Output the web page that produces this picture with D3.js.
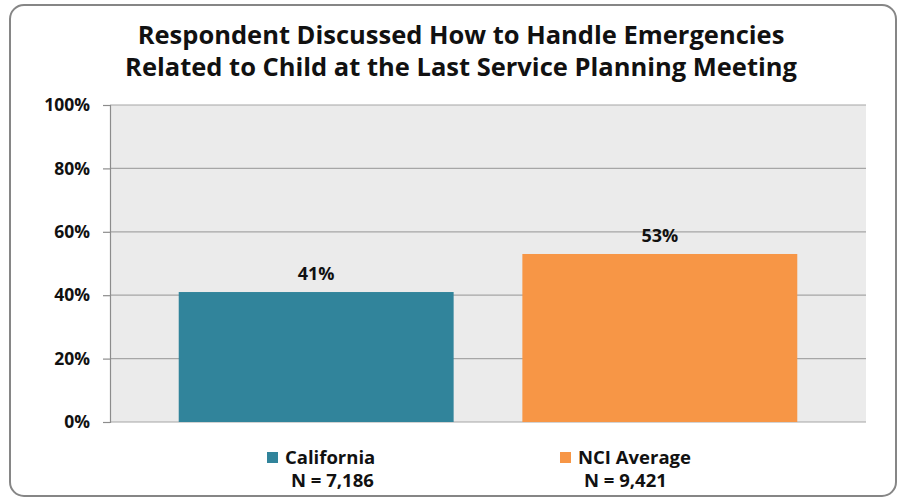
<!DOCTYPE html>
<html>
<head>
<meta charset="utf-8">
<script src="https://cdn.jsdelivr.net/npm/d3@7"></script>
<style>
  body { margin: 0; background: #fff; }
  text { font-family: "Open Sans", "DejaVu Sans", sans-serif; font-weight: bold; fill: #111; }
</style>
</head>
<body>
<svg id="chart" width="900" height="499"></svg>
<script>
var categories = ["California", "NCI Average"];
var values = [0.41, 0.53];
var sampleLabels = ["N = 7,186", "N = 9,421"];
var colors = ["#31849B", "#F79646"];
var yTicks = [0, 0.2, 0.4, 0.6, 0.8, 1.0];
var titleLines = ["Respondent Discussed How to Handle Emergencies",
                  "Related to Child at the Last Service Planning Meeting"];

var svg = d3.select("#chart");

// outer frame
svg.append("rect")
   .attr("x", 10).attr("y", 5)
   .attr("width", 886).attr("height", 491)
   .attr("rx", 14)
   .attr("fill", "#fff")
   .attr("stroke", "#868686")
   .attr("stroke-width", 2);

var plot = { left: 110, top: 105, right: 866, bottom: 422 };

var x = d3.scaleBand().domain(categories)
          .range([plot.left, plot.right])
          .paddingInner(0.2).paddingOuter(0.2);
var y = d3.scaleLinear().domain([0, 1]).range([plot.bottom, plot.top]);

// title
svg.selectAll(".title").data(titleLines).enter().append("text")
   .attr("class", "title")
   .attr("x", 461)
   .attr("y", function(d, i) { return 44 + i * 32; })
   .attr("text-anchor", "middle")
   .attr("font-size", 25.5)
   .text(function(d) { return d; });

// plot background
svg.append("rect")
   .attr("x", plot.left).attr("y", plot.top)
   .attr("width", plot.right - plot.left)
   .attr("height", plot.bottom - plot.top)
   .attr("fill", "#EBEBEB");

// gridlines
svg.selectAll(".grid").data(yTicks).enter().append("line")
   .attr("x1", plot.left).attr("x2", plot.right)
   .attr("y1", function(d) { return y(d); })
   .attr("y2", function(d) { return y(d); })
   .attr("stroke", "#A6A6A6")
   .attr("stroke-width", 1.2);

// y axis
var yAxis = svg.append("g")
   .attr("transform", "translate(" + plot.left + ",0)")
   .call(d3.axisLeft(y).tickValues(yTicks).tickFormat(d3.format(".0%")).tickSize(7).tickPadding(13));
yAxis.select(".domain").attr("stroke", "#8C8C8C").attr("stroke-width", 1.2);
yAxis.selectAll(".tick line").attr("stroke", "#8C8C8C").attr("stroke-width", 1.2);
yAxis.selectAll(".tick text")
   .attr("font-family", "Open Sans, DejaVu Sans, sans-serif")
   .attr("font-weight", "bold")
   .attr("font-size", 17.5)
   .attr("fill", "#111");

// bars
svg.selectAll(".bar").data(values).enter().append("rect")
   .attr("class", "bar")
   .attr("x", function(d, i) { return x(categories[i]); })
   .attr("width", x.bandwidth())
   .attr("y", function(d) { return y(d); })
   .attr("height", function(d) { return y(0) - y(d); })
   .attr("fill", function(d, i) { return colors[i]; });

// value labels
svg.selectAll(".val").data(values).enter().append("text")
   .attr("x", function(d, i) { return x(categories[i]) + x.bandwidth() / 2; })
   .attr("y", function(d) { return y(d) - 12; })
   .attr("text-anchor", "middle")
   .attr("font-size", 18)
   .text(function(d) { return Math.round(d * 100) + "%"; });

// legend
var legendX = [267, 560];
var leg = svg.selectAll(".leg").data(categories).enter().append("g")
   .attr("transform", function(d, i) { return "translate(" + legendX[i] + ",0)"; });
leg.append("rect")
   .attr("x", 0).attr("y", 452)
   .attr("width", 11).attr("height", 11)
   .attr("fill", function(d, i) { return colors[i]; });
leg.append("text")
   .attr("x", 18).attr("y", 464)
   .attr("font-size", 18.5)
   .text(function(d) { return d; });
leg.append("text")
   .attr("x", 24).attr("y", 487)
   .attr("font-size", 18.5)
   .text(function(d, i) { return sampleLabels[i]; });
</script>
</body>
</html>
